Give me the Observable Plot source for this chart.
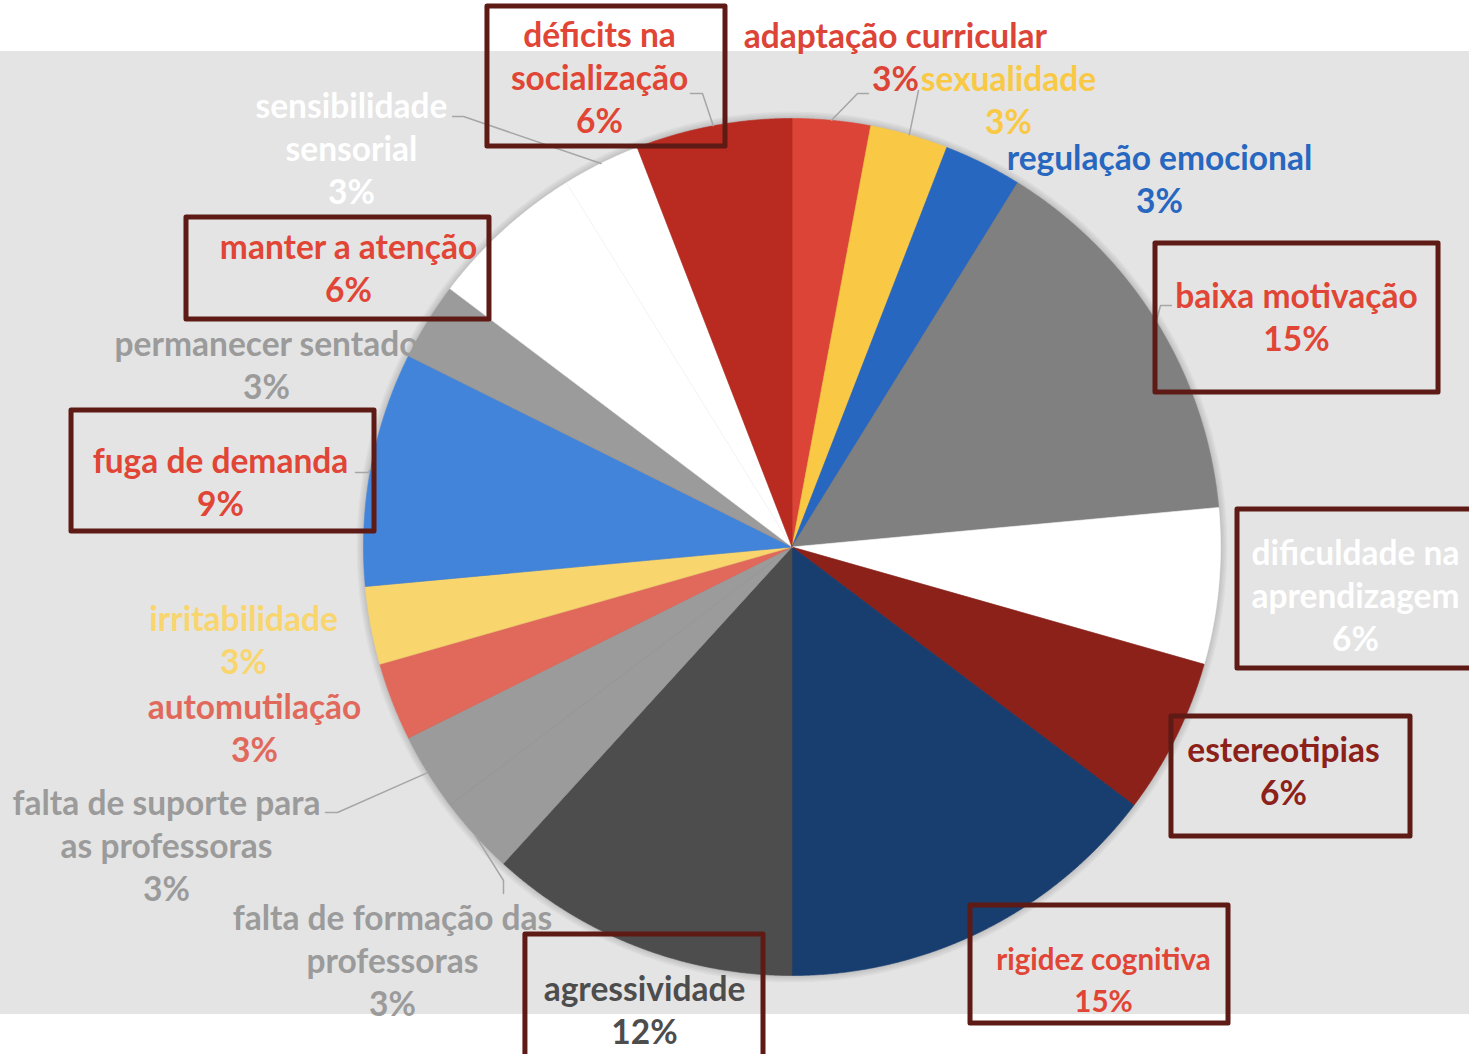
<!DOCTYPE html>
<html>
<head>
<meta charset="utf-8">
<script src="https://cdn.jsdelivr.net/npm/d3@7"></script>
<script src="https://cdn.jsdelivr.net/npm/@observablehq/plot@0.6"></script>
<style>
  html, body { margin: 0; padding: 0; background: #ffffff; }
  #chart {
    width: 1469px; height: 1054px; overflow: hidden;
    background: linear-gradient(to bottom, #ffffff 0px, #ffffff 51px, #e4e4e4 51px, #e4e4e4 1014px, #ffffff 1014px);
  }
  #chart svg { display: block; }
</style>
</head>
<body>
<div id="chart"></div>
<script>
// ---------- data ----------
const categories = [
  "adaptação curricular",
  "sexualidade",
  "regulação emocional",
  "baixa motivação",
  "dificuldade na\naprendizagem",
  "estereotipias",
  "rigidez cognitiva",
  "agressividade",
  "falta de formação das\nprofessoras",
  "falta de suporte para\nas professoras",
  "automutilação",
  "irritabilidade",
  "fuga de demanda",
  "permanecer sentado",
  "manter a atenção",
  "sensibilidade\nsensorial",
  "déficits na\nsocialização"
];
const counts = [1, 1, 1, 5, 2, 2, 5, 4, 1, 1, 1, 1, 3, 1, 2, 1, 2];

// ---------- styles ----------
const sliceColors = [
  "#dc4437", "#f9c945", "#2767c0", "#808080", "#ffffff", "#8c2119",
  "#183d6f", "#4d4d4d", "#9b9b9b", "#9b9b9b", "#e1695c", "#f9d56e",
  "#4284da", "#9b9b9b", "#ffffff", "#ffffff", "#b92b21"
];
const labelColors = [
  "#dc4437", "#f9c945", "#2767c0", "#e04535", "#ffffff", "#8c2119",
  "#e04535", "#4d4d4d", "#9b9b9b", "#9b9b9b", "#e1695c", "#f9d56e",
  "#e04535", "#9b9b9b", "#e04535", "#ffffff", "#e04535"
];
const labelSizes = [33.5, 33.5, 33.5, 33.5, 33.5, 33.5, 29.5, 33.5, 33.5, 33.5, 33.5, 33.5, 33.5, 33.5, 33.5, 33.5, 33.5];

// ---------- layout (in pie-radius units, pie centred at 0,0) ----------
const labelX = [0.2413, 0.5053, 0.8576, 1.1774, 1.3151, 1.1470, 0.7270, -0.3442, -0.9323,
                -1.4598, -1.2544, -1.2800, -1.3337, -1.2264, -1.0350, -1.0280, -0.4492];
const labelY = [1.1470, 1.0467, 0.8623, 0.5403, -0.1097, -0.5193, -1.0047, -1.0770, -0.9615,
                -0.6931, -0.4189, -0.2135, 0.1552, 0.4282, 0.6546, 0.9335, 1.0992];
// framed labels: [slice index, x1, x2, y1, y2]
const boxes = [
  [16, -0.7107, -0.1552, 1.2614, 0.9346],
  [3, 0.8483, 1.5088, 0.7083, 0.3606],
  [4, 1.0397, 1.6100, 0.0875, -0.2835],
  [5, 0.8856, 1.4434, -0.3956, -0.6757],
  [6, 0.4166, 1.0187, -0.8366, -1.1120],
  [7, -0.6221, -0.0665, -0.9043, -1.2100],
  [12, -1.6814, -0.9743, 0.3186, 0.0362],
  [14, -1.4131, -0.7060, 0.7690, 0.5309]
];
// leader lines: [slice index, label-side points...] ; ends at slice edge midpoint
const leaders = [
  [16, [-0.2369, 1.0584], [-0.2089, 1.0584]],
  [0, [0.1785, 1.0584], [0.1529, 1.0584]],
  [1, [0.2952, 1.0654]],
  [15, [-0.7923, 1.0047], [-0.7666, 1.0047]],
  [3, [0.8857, 0.5636], [0.8600, 0.5636]],
  [12, [-1.0187, 0.1739], [-0.9883, 0.1739]],
  [9, [-1.0887, -0.6196], [-1.0607, -0.6196]],
  [8, [-0.6733, -0.8086], [-0.6733, -0.7783]]
];

// ---------- build ----------
const W = 1469, H = 1054, R = 428.5, CX = 791.5, CY = 546.5;
const total = d3.sum(counts);
const pct = counts.map(c => Math.round(c / total * 100) + "%");
const arcs = d3.pie().sort(null).value(d => d)(counts);

const slicePolys = arcs.map((a, i) => {
  const pts = [{x: 0, y: 0}];
  const n = Math.max(4, Math.ceil((a.endAngle - a.startAngle) / 0.004));
  for (let k = 0; k <= n; k++) {
    const t = a.startAngle + (a.endAngle - a.startAngle) * k / n;
    pts.push({x: Math.sin(t), y: Math.cos(t)});
  }
  pts.push({x: 0, y: 0});
  return pts;
});

const sepRows = arcs.map(a => ({x2: Math.sin(a.startAngle), y2: Math.cos(a.startAngle)}));

const leaderRows = [];
leaders.forEach((L, j) => {
  const a = arcs[L[0]];
  const mid = (a.startAngle + a.endAngle) / 2;
  L.slice(1).forEach(p => leaderRows.push({j, x: p[0], y: p[1]}));
  leaderRows.push({j, x: Math.sin(mid), y: Math.cos(mid)});
});

const labelRows = categories.map((c, i) => ({
  text: c + "\n" + pct[i], x: labelX[i], y: labelY[i],
  fill: labelColors[i], size: labelSizes[i]
}));

const boxRows = boxes.map(b => ({x1: b[1], x2: b[2], y1: b[3], y2: b[4]}));

// soft shadow rings around the pie
const shadowMarks = [7, 5.5, 4, 2.5, 1.2].map(d =>
  Plot.dot([{x: 0, y: 0}], {x: "x", y: "y", r: R + d, fill: "#000000", fillOpacity: 0.03, stroke: "none"})
);

const sliceMarks = slicePolys.map((pts, i) =>
  Plot.line(pts, {x: "x", y: "y", fill: sliceColors[i], stroke: sliceColors[i], strokeWidth: 0.6, curve: "linear"})
);

const textOpts = {
  x: "x", y: "y", text: "text", fill: "fill", fontSize: "size",
  lineAnchor: "middle", textAnchor: "middle",
  fontWeight: "bold", fontFamily: "Lato, 'Open Sans', sans-serif"
};

const chart = Plot.plot({
  width: W,
  height: H,
  margin: 0,
  x: {domain: [-CX / R, (W - CX) / R], axis: null},
  y: {domain: [(CY - H) / R, CY / R], axis: null},
  color: {type: "identity"},
  style: {background: "transparent", overflow: "visible"},
  marks: [
    ...shadowMarks,
    ...sliceMarks,
    Plot.link(sepRows, {x1: () => 0, y1: () => 0, x2: "x2", y2: "y2",
      stroke: "#000000", strokeOpacity: 0.04, strokeWidth: 1}),
    Plot.line(leaderRows, {x: "x", y: "y", z: "j", stroke: "#a6a6a6", strokeWidth: 1.5}),
    Plot.rect(boxRows, {x1: "x1", x2: "x2", y1: "y1", y2: "y2",
      fill: "none", stroke: "#5e1a14", strokeWidth: 5, strokeLinejoin: "round"}),
    Plot.text(labelRows.filter(d => d.size > 30), {...textOpts, lineHeight: 1.28}),
    Plot.text(labelRows.filter(d => d.size <= 30), {...textOpts, lineHeight: 1.42})
  ]
});
document.getElementById("chart").appendChild(chart);
</script>
</body>
</html>
